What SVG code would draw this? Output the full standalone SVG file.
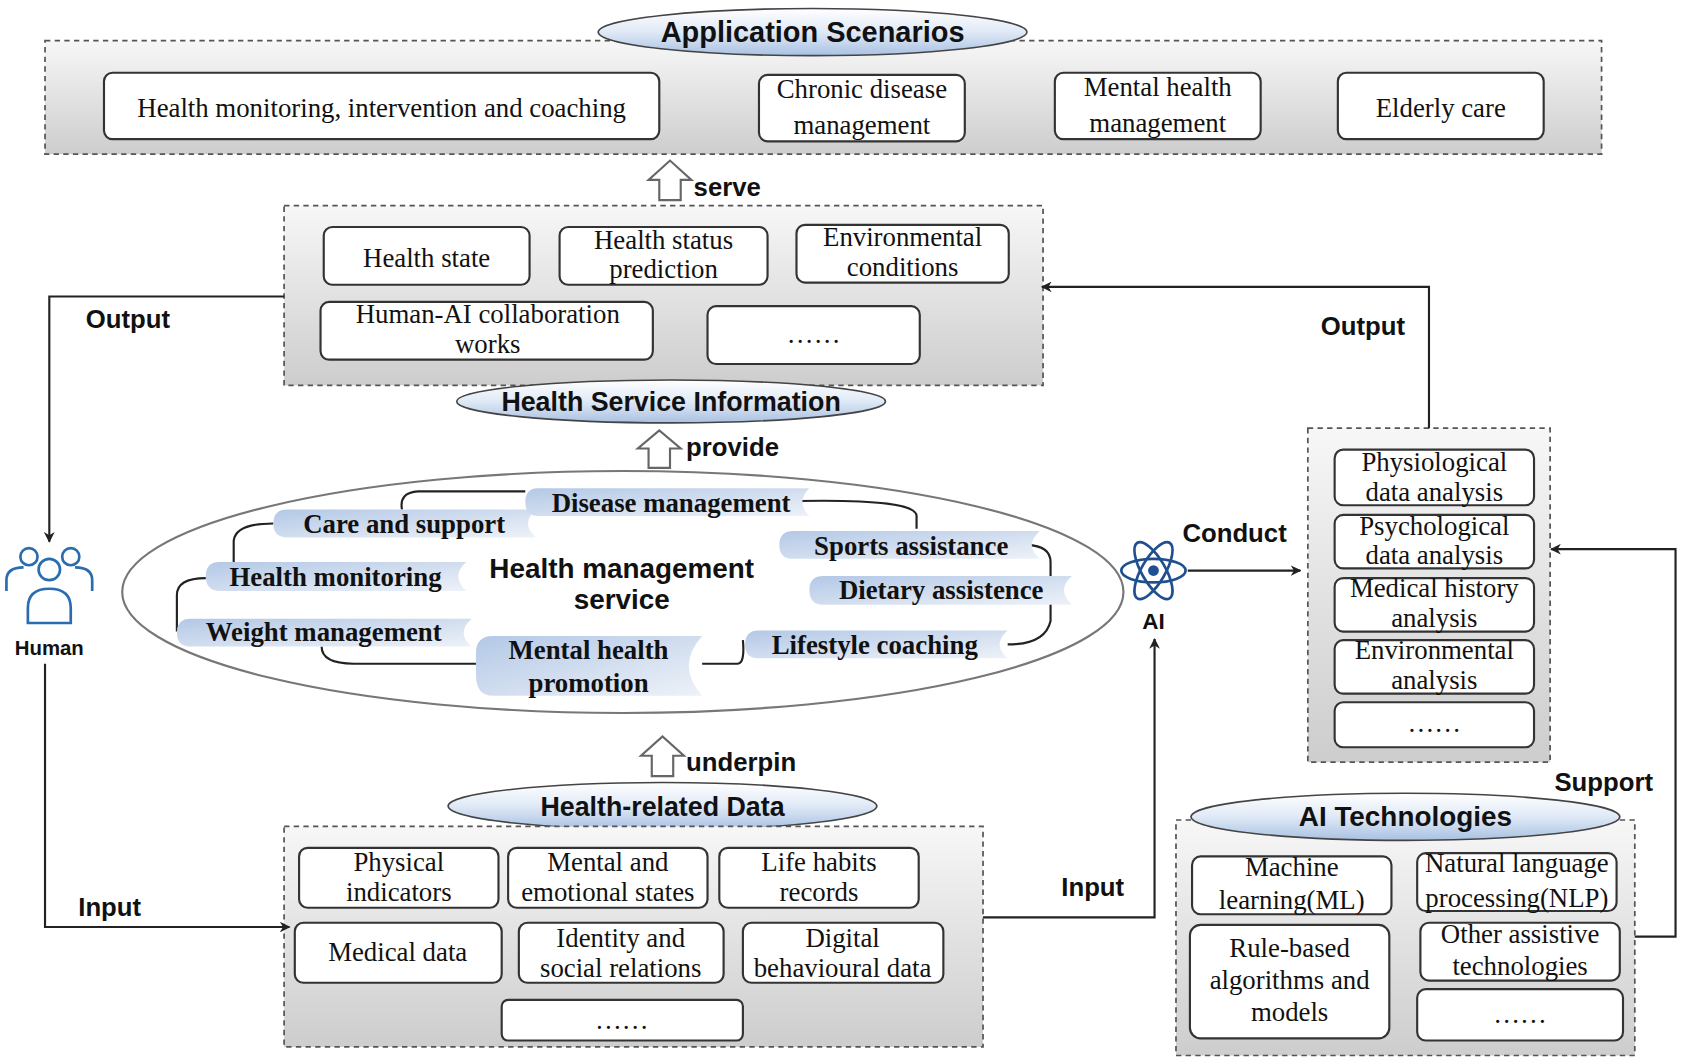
<svg xmlns="http://www.w3.org/2000/svg" width="1681" height="1063" viewBox="0 0 1681 1063">
<defs>
<linearGradient id="pg" x1="0" y1="0" x2="0" y2="1"><stop offset="0" stop-color="#f7f7f7"/><stop offset="1" stop-color="#cdcdcd"/></linearGradient>
<linearGradient id="eg" x1="0" y1="0" x2="0" y2="1"><stop offset="0" stop-color="#ffffff"/><stop offset="0.5" stop-color="#dfe9f6"/><stop offset="1" stop-color="#a9c1e2"/></linearGradient>
<linearGradient id="rg" x1="0" y1="0" x2="1" y2="1"><stop offset="0" stop-color="#b3c8e6"/><stop offset="1" stop-color="#eef2f8"/></linearGradient>
<marker id="ah" viewBox="0 0 10 10" refX="9" refY="5" markerWidth="10" markerHeight="10" orient="auto-start-reverse" markerUnits="userSpaceOnUse"><path d="M0,0 L10,5 L0,10 L3,5 z" fill="#222"/></marker>
<style>
.panel{fill:url(#pg);stroke:#555;stroke-width:1.6;stroke-dasharray:5,4}
.box{fill:#fff;stroke:#333;stroke-width:2}
.t{font-family:"Liberation Serif",serif;font-size:25px;fill:#111;text-anchor:middle}
.tb{font-family:"Liberation Serif",serif;font-size:25px;font-weight:bold;fill:#111;text-anchor:middle}
.s{font-family:"Liberation Sans",sans-serif;font-weight:bold;fill:#111}
.ell{fill:url(#eg);stroke:#444;stroke-width:1.5}
.ln{fill:none;stroke:#222;stroke-width:2}
.rb{fill:url(#rg)}
.up{fill:#fff;stroke:#666;stroke-width:2}
</style>
</defs>
<rect width="1681" height="1063" fill="#fff"/>
<g transform="scale(1.072,1.0705)">
<g id="application-scenarios">
<rect class="panel" x="42" y="38" width="1452" height="106"/>
<ellipse class="ell" cx="758" cy="30" rx="200" ry="22"/>
<text class="s" x="758" y="39" font-size="27" text-anchor="middle">Application Scenarios</text>
<rect class="box" x="97" y="68" width="518" height="62" rx="8"/><text class="t" x="356" y="109">Health monitoring, intervention and coaching</text>
<rect class="box" x="708" y="70" width="192" height="62" rx="8"/><text class="t" x="804" y="92">Chronic disease</text><text class="t" x="804" y="125">management</text>
<rect class="box" x="984" y="68" width="192" height="62" rx="8"/><text class="t" x="1080" y="90">Mental health</text><text class="t" x="1080" y="123">management</text>
<rect class="box" x="1248" y="68" width="192" height="62" rx="8"/><text class="t" x="1344" y="109">Elderly care</text>
</g>
<g id="health-service-information">
<rect class="panel" x="265" y="192" width="708" height="168"/>
<rect class="box" x="302" y="212" width="192" height="54" rx="8"/><text class="t" x="398" y="249">Health state</text>
<rect class="box" x="522" y="212" width="194" height="54" rx="8"/><text class="t" x="619" y="233">Health status</text><text class="t" x="619" y="260">prediction</text>
<rect class="box" x="743" y="210" width="198" height="54" rx="8"/><text class="t" x="842" y="230">Environmental</text><text class="t" x="842" y="258">conditions</text>
<rect class="box" x="299" y="282" width="310" height="54" rx="8"/><text class="t" x="455" y="302">Human-AI collaboration</text><text class="t" x="455" y="330">works</text>
<rect class="box" x="660" y="286" width="198" height="54" rx="8"/><text class="t" x="759" y="320">……</text>
<ellipse class="ell" cx="626" cy="375" rx="200" ry="20"/>
<text class="s" x="626" y="384" font-size="25" text-anchor="middle">Health Service Information</text>
</g>
<g id="health-management-service">
<ellipse cx="581" cy="553" rx="467" ry="113" fill="#fff" stroke="#777" stroke-width="2"/>
<path class="ln" d="M375,476 Q372,460 390,459 L490,459 M745,468 Q855,466 855,482 L855,494 M255,489 Q220,489 218,505 L218,525 M192,540 Q165,540 165,556 L165,590 M958,509 Q980,510 980,525 L980,580 Q975,602 940,602 M300,604 Q300,620 330,620 L444,620 M655,620 L688,620 Q695,620 693,598"/>
<path class="rb" d="M268,476 L500,476 Q485,489 500,502 L268,502 Q255,502 255,489 Q255,476 268,476 z"/>
<path class="rb" d="M502,456 L755,456 Q742,469 755,482 L502,482 Q490,482 490,469 Q490,456 502,456 z"/>
<path class="rb" d="M205,525 L435,525 Q420,538 435,552 L205,552 Q192,552 192,538 Q192,525 205,525 z"/>
<path class="rb" d="M178,578 L440,578 Q425,591 440,604 L178,604 Q165,604 165,591 Q165,578 178,578 z"/>
<path class="rb" d="M460,594 L655,594 Q630,622 655,650 L460,650 Q444,650 444,630 L444,610 Q444,594 460,594 z"/>
<path class="rb" d="M740,496 L970,496 Q955,509 970,522 L740,522 Q727,522 727,509 Q727,496 740,496 z"/>
<path class="rb" d="M768,538 L1000,538 Q985,551 1000,565 L768,565 Q755,565 755,551 Q755,538 768,538 z"/>
<path class="rb" d="M708,589 L940,589 Q925,602 940,615 L708,615 Q695,615 695,602 Q695,589 708,589 z"/>
<text class="tb" x="377" y="498">Care and support</text>
<text class="tb" x="626" y="478">Disease management</text>
<text class="tb" x="313" y="547">Health monitoring</text>
<text class="tb" x="302" y="599">Weight management</text>
<text class="tb" x="549" y="616">Mental health</text>
<text class="tb" x="549" y="646">promotion</text>
<text class="tb" x="850" y="518">Sports assistance</text>
<text class="tb" x="878" y="560">Dietary assistence</text>
<text class="tb" x="816" y="611">Lifestyle coaching</text>
<text class="s" x="580" y="540" font-size="26" text-anchor="middle">Health management</text>
<text class="s" x="580" y="569" font-size="26" text-anchor="middle">service</text>
</g>
<g id="health-related-data">
<ellipse class="ell" cx="618" cy="753" rx="200" ry="22"/>
<text class="s" x="618" y="762" font-size="25" text-anchor="middle">Health-related Data</text>
<rect class="panel" x="265" y="772" width="652" height="206"/>
<rect class="box" x="279" y="792" width="186" height="56" rx="8"/><text class="t" x="372" y="814">Physical</text><text class="t" x="372" y="842">indicators</text>
<rect class="box" x="474" y="792" width="186" height="56" rx="8"/><text class="t" x="567" y="814">Mental and</text><text class="t" x="567" y="842">emotional states</text>
<rect class="box" x="671" y="792" width="186" height="56" rx="8"/><text class="t" x="764" y="814">Life habits</text><text class="t" x="764" y="842">records</text>
<rect class="box" x="275" y="862" width="193" height="56" rx="8"/><text class="t" x="371" y="898">Medical data</text>
<rect class="box" x="484" y="862" width="191" height="56" rx="8"/><text class="t" x="579" y="885">Identity and</text><text class="t" x="579" y="913">social relations</text>
<rect class="box" x="693" y="862" width="187" height="56" rx="8"/><text class="t" x="786" y="885">Digital</text><text class="t" x="786" y="913">behavioural data</text>
<rect class="box" x="468" y="934" width="225" height="38" rx="6"/><text class="t" x="580" y="961">……</text>
</g>
<g id="human">
<g fill="none" stroke="#2b6cb0" stroke-width="2.5">
<circle cx="46" cy="532" r="10"/><path d="M26,582 L26,568 Q26,550 46,550 Q66,550 66,568 L66,582 Z"/>
<circle cx="27" cy="520" r="8"/><path d="M6,552 L6,542 Q6,530 22,530"/>
<circle cx="66" cy="520" r="8"/><path d="M86,552 L86,542 Q86,530 70,530"/>
</g>
<text class="s" x="46" y="612" font-size="19" text-anchor="middle">Human</text>
</g>
<g id="ai">
<g fill="none" stroke="#1f4f8f" stroke-width="2.5">
<ellipse cx="1076" cy="533" rx="30" ry="11"/>
<ellipse cx="1076" cy="533" rx="30" ry="11" transform="rotate(60 1076 533)"/>
<ellipse cx="1076" cy="533" rx="30" ry="11" transform="rotate(-60 1076 533)"/>
</g>
<circle cx="1076" cy="533" r="5" fill="#1f4f8f"/>
<text class="s" x="1076" y="588" font-size="21" text-anchor="middle">AI</text>
</g>
<g id="analysis">
<rect class="panel" x="1220" y="400" width="226" height="312"/>
<rect class="box" x="1245" y="420" width="186" height="52" rx="8"/><text class="t" x="1338" y="440">Physiological</text><text class="t" x="1338" y="468">data analysis</text>
<rect class="box" x="1245" y="481" width="186" height="50" rx="8"/><text class="t" x="1338" y="500">Psychological</text><text class="t" x="1338" y="527">data analysis</text>
<rect class="box" x="1245" y="540" width="186" height="50" rx="8"/><text class="t" x="1338" y="558">Medical history</text><text class="t" x="1338" y="586">analysis</text>
<rect class="box" x="1245" y="598" width="186" height="50" rx="8"/><text class="t" x="1338" y="616">Environmental</text><text class="t" x="1338" y="644">analysis</text>
<rect class="box" x="1245" y="656" width="186" height="42" rx="8"/><text class="t" x="1338" y="684">……</text>
</g>
<g id="ai-technologies">
<rect class="panel" x="1097" y="766" width="428" height="220"/>
<ellipse class="ell" cx="1311" cy="763" rx="200" ry="22"/>
<text class="s" x="1311" y="772" font-size="26" text-anchor="middle">AI Technologies</text>
<rect class="box" x="1112" y="800" width="186" height="54" rx="8"/><text class="t" x="1205" y="818">Machine</text><text class="t" x="1205" y="849">learning(ML)</text>
<rect class="box" x="1322" y="797" width="186" height="54" rx="8"/><text class="t" x="1415" y="815">Natural language</text><text class="t" x="1415" y="847">processing(NLP)</text>
<rect class="box" x="1110" y="864" width="186" height="106" rx="10"/><text class="t" x="1203" y="894">Rule-based</text><text class="t" x="1203" y="924">algorithms and</text><text class="t" x="1203" y="954">models</text>
<rect class="box" x="1325" y="862" width="186" height="54" rx="8"/><text class="t" x="1418" y="881">Other assistive</text><text class="t" x="1418" y="911">technologies</text>
<rect class="box" x="1322" y="924" width="192" height="48" rx="8"/><text class="t" x="1418" y="956">……</text>
</g>
<g id="connectors">
<path class="up" d="M615,187 L615,168 L605,168 L625,150 L645,168 L635,168 L635,187 Z"/>
<text class="s" x="647" y="183" font-size="24">serve</text>
<path class="up" d="M605,437 L605,419 L595,419 L615,402 L635,419 L625,419 L625,437 Z"/>
<text class="s" x="640" y="426" font-size="24">provide</text>
<path class="up" d="M608,725 L608,706 L598,706 L618,688 L638,706 L628,706 L628,725 Z"/>
<text class="s" x="640" y="720" font-size="24">underpin</text>
<path class="ln" d="M265,277 L46,277 L46,506" marker-end="url(#ah)"/>
<text class="s" x="80" y="306" font-size="24">Output</text>
<path class="ln" d="M42,620 L42,866 L270,866" marker-end="url(#ah)"/>
<text class="s" x="73" y="856" font-size="24">Input</text>
<path class="ln" d="M917,857 L1077,857 L1077,597" marker-end="url(#ah)"/>
<text class="s" x="990" y="837" font-size="24">Input</text>
<path class="ln" d="M1108,533 L1213,533" marker-end="url(#ah)"/>
<text class="s" x="1103" y="506" font-size="24">Conduct</text>
<path class="ln" d="M1333,400 L1333,268 L972,268" marker-end="url(#ah)"/>
<text class="s" x="1232" y="313" font-size="24">Output</text>
<path class="ln" d="M1525,875 L1563,875 L1563,513 L1447,513" marker-end="url(#ah)"/>
<text class="s" x="1450" y="739" font-size="24">Support</text>
</g>
</g>
</svg>
